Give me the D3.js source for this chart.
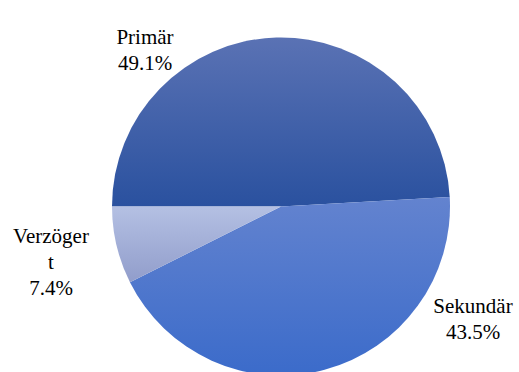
<!DOCTYPE html>
<html>
<head>
<meta charset="utf-8">
<script src="https://cdn.jsdelivr.net/npm/d3@7"></script>
<style>
  html, body { margin: 0; padding: 0; background: #fff; }
  svg { display: block; }
</style>
</head>
<body>
<script>
// Share of each type (percent)
const categories = ["Primär", "Sekundär", "Verzögert"];
const values = [49.1, 43.5, 7.4];
const labelLines = [["Primär", "49.1%"], ["Sekundär", "43.5%"], ["Verzöger", "t", "7.4%"]];
// Gradient stops per slice: [top colour, bottom colour]
const sliceColors = [["#5a72b4", "#2a519f"], ["#6383cf", "#3b6bca"], ["#b4c0e3", "#919dcb"]];

const W = 519, H = 372;
const cx = 281, cy = 206.5, R = 169;

const svg = d3.select("body").append("svg").attr("width", W).attr("height", H);

const defs = svg.append("defs");
sliceColors.forEach((c, i) => {
  const g = defs.append("linearGradient").attr("id", "grad" + i)
    .attr("x1", 0).attr("y1", 0).attr("x2", 0).attr("y2", 1);
  g.append("stop").attr("offset", "0%").attr("stop-color", c[0]);
  g.append("stop").attr("offset", "100%").attr("stop-color", c[1]);
});

// Start at 9 o'clock and run clockwise
const pie = d3.pie().sort(null).value(d => d)
  .startAngle(-Math.PI / 2).endAngle(1.5 * Math.PI);
const arcs = pie(values);
const arc = d3.arc().innerRadius(0).outerRadius(R);

const g = svg.append("g").attr("transform", `translate(${cx},${cy})`);
g.selectAll("path").data(arcs).join("path")
  .attr("d", arc)
  .attr("fill", (d, i) => `url(#grad${i})`);

// Label anchors (centre of text block) and line spacing
const labelPos = [[145, 44], [473, 313], [51, 243]];
const lineH = 26;
labelLines.forEach((lines, i) => {
  const t = svg.append("text")
    .attr("text-anchor", "middle")
    .attr("font-family", "'Liberation Serif', 'Times New Roman', Times, 'DejaVu Serif', serif")
    .attr("font-size", 21)
    .attr("fill", "#000");
  lines.forEach((s, j) => {
    t.append("tspan").attr("x", labelPos[i][0]).attr("y", labelPos[i][1] + j * lineH).text(s);
  });
});
</script>
</body>
</html>
